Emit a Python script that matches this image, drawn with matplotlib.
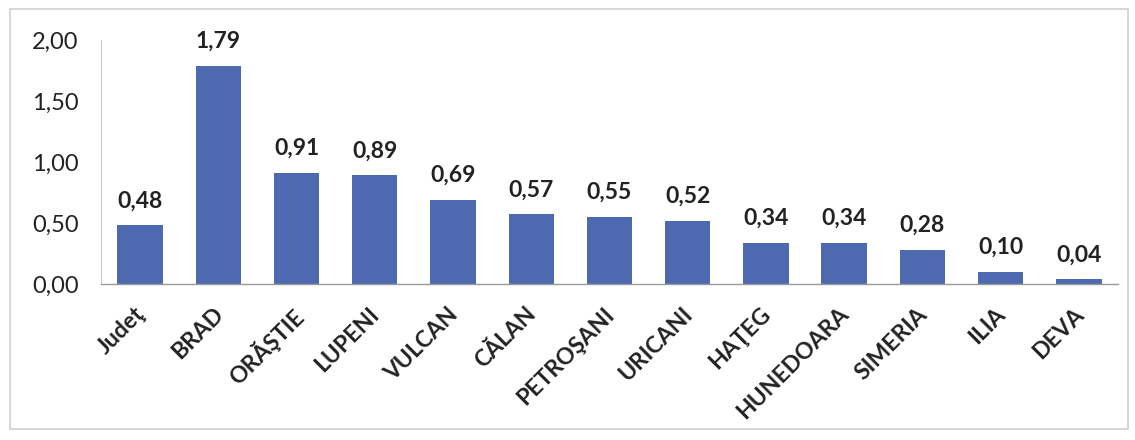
import matplotlib
matplotlib.use("Agg")
import matplotlib.pyplot as plt
from matplotlib.patches import Rectangle
from matplotlib.ticker import FuncFormatter
from matplotlib.transforms import ScaledTranslation

categories = ["Judeţ", "BRAD", "ORĂŞTIE", "LUPENI", "VULCAN", "CĂLAN", "PETROŞANI",
              "URICANI", "HAŢEG", "HUNEDOARA", "SIMERIA", "ILIA", "DEVA"]
values = [0.48, 1.79, 0.91, 0.89, 0.69, 0.57, 0.55, 0.52, 0.34, 0.34, 0.28, 0.10, 0.04]
yticks = [0.0, 0.5, 1.0, 1.5, 2.0]

plt.rcParams['font.family'] = ['Lato', 'DejaVu Sans']

fig = plt.figure(figsize=(11.35, 4.4), dpi=100)
fig.patches.append(Rectangle((0.009, 0.025), 0.985, 0.955, transform=fig.transFigure,
                             fill=False, edgecolor='#d0d0d0', linewidth=1.2))
ax = fig.add_axes([0.089, 0.3545, 0.896, 0.5545])

x = range(len(categories))
bars = ax.bar(x, values, width=0.58, color='#4d69af')
ax.set_xlim(-0.5, len(categories) - 0.5)
ax.set_ylim(0, 2.0)
ax.set_yticks(yticks)
ax.yaxis.set_major_formatter(FuncFormatter(lambda v, p: f"{v:.2f}".replace('.', ',')))
ax.tick_params(axis='y', length=0, labelsize=17, pad=16, colors='#222222')
ax.tick_params(axis='x', length=0, pad=14)
ax.set_xticks(list(x))
ax.set_xticklabels(categories, rotation=45, ha='right', va='top', rotation_mode='anchor',
                   fontsize=16.5, fontweight='bold', color='#222222')
shift = ScaledTranslation(-6 / 100, 0, fig.dpi_scale_trans)
for lbl in ax.get_xticklabels():
    lbl.set_transform(lbl.get_transform() + shift)

for rect, v in zip(bars, values):
    ax.annotate(f"{v:.2f}".replace('.', ','), (rect.get_x() + rect.get_width() / 2, v),
                xytext=(0, 10), textcoords='offset points', ha='center', va='bottom',
                fontsize=16.5, fontweight='bold', color='#222222')

for s in ['top', 'right']:
    ax.spines[s].set_visible(False)
ax.spines['left'].set_color('#cccccc')
ax.spines['left'].set_linewidth(0.8)
ax.spines['bottom'].set_color('#999999')
ax.spines['bottom'].set_linewidth(1.0)

fig.savefig("out.png", dpi=100)
